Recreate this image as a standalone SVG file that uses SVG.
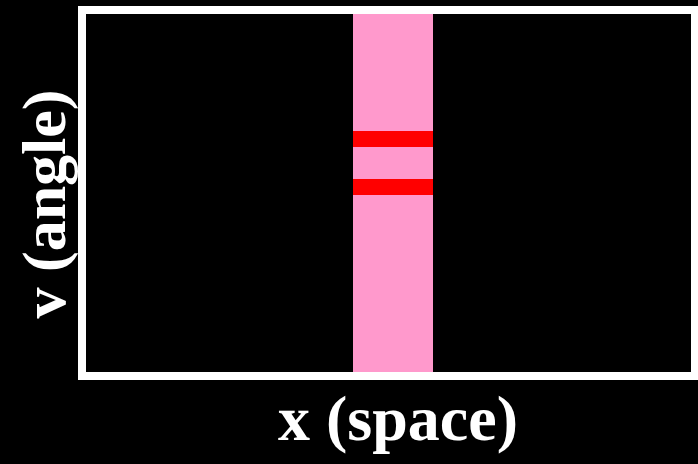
<svg xmlns="http://www.w3.org/2000/svg" width="698" height="464" viewBox="0 0 698 464">
<style>
.lbl{font-family:"Liberation Serif","Times New Roman",serif;font-weight:bold;fill:#ffffff;text-anchor:middle}
</style>
<rect x="0" y="0" width="698" height="464" fill="#000000"/>
<g id="band">
<rect x="353" y="14" width="80" height="358" fill="#ff99cc"/>
<rect x="353" y="131" width="80" height="16" fill="#ff0000"/>
<rect x="353" y="179" width="80" height="16" fill="#ff0000"/>
</g>
<g id="frame">
<rect x="82" y="10" width="613" height="366" fill="none" stroke="#ffffff" stroke-width="8"/>
</g>
<text class="lbl" x="398" y="440" font-size="64">x (space)</text>
<text class="lbl" x="0" y="0" font-size="62" transform="translate(65,204) rotate(-90)">v (angle)</text>
</svg>
